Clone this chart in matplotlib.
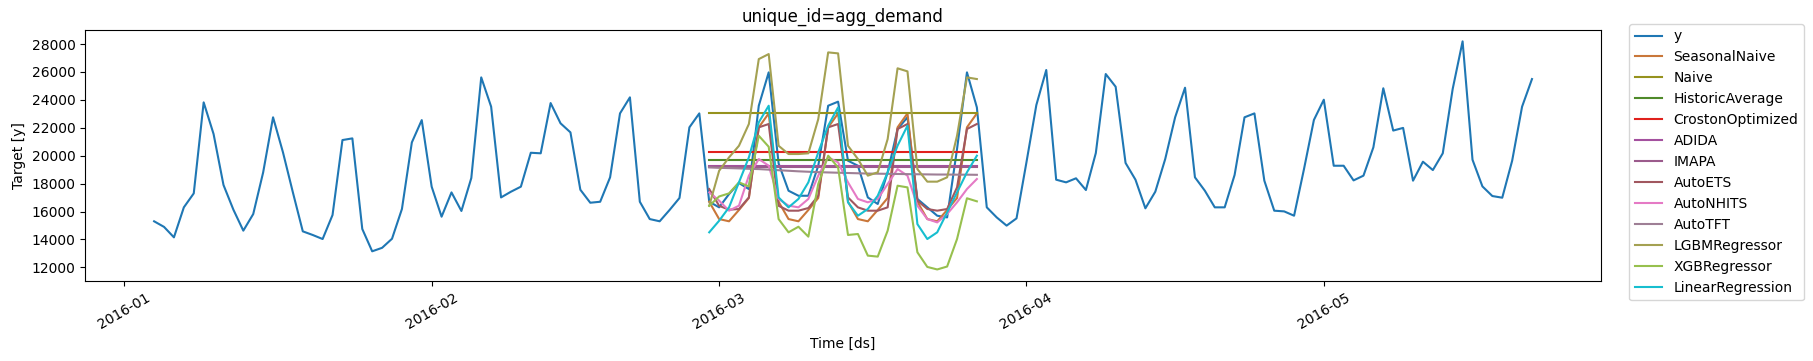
import numpy as np
import pandas as pd
import matplotlib
matplotlib.use('Agg')
import matplotlib.pyplot as plt

# actual series, daily 2016-01-04 .. 2016-05-22
ds = pd.date_range('2016-01-04', '2016-05-22', freq='D')
y = [
    # Jan 4 - Jan 31
    15300, 14900, 14150, 16300, 17300, 23820, 21550, 17900, 16130, 14630,
    15820, 18800, 22750, 20240, 17370, 14580, 14320, 14030, 15750, 21120,
    21240, 14750, 13150, 13400, 14050, 16180, 20950, 22550,
    # Feb
    17780, 15630, 17370, 16040, 18400, 25610, 23510, 17010, 17420, 17780,
    20210, 20170, 23770, 22320, 21670, 17560, 16630, 16700, 18450, 23030,
    24180, 16700, 15460, 15300, 16110, 16970, 22030, 23030, 16700,
    # Mar
    16300, 17250, 18040, 17610, 23580, 25970, 19450, 17490, 17130, 17130,
    19280, 23580, 23870, 19640, 19280, 17010, 16540, 18810, 21910, 22750,
    16900, 16300, 15700, 15580, 20480, 25970, 23460, 16300, 15580, 14990,
    15510,
    # Apr
    19520, 23630, 26140, 18280, 18090, 18380, 17540, 20190, 25850, 24940,
    19480, 18280, 16230, 17420, 19760, 22750, 24870, 18450, 17490, 16300,
    16300, 18620, 22750, 23030, 18210, 16060, 16010, 15700, 19040, 22560,
    # May 1 - May 22
    24010, 19280, 19280, 18230, 18570, 20600, 24830, 21800, 21990, 18210,
    19570, 18970, 20170, 24780, 28190, 19710, 17800, 17110, 16990, 19640,
    23510, 25490,
]

# forecasts, 28 days from 2016-02-29
fc_ds = pd.date_range('2016-02-29', periods=28, freq='D')
seasonal_naive = [16700, 15460, 15300, 16110, 16970, 22030, 23030,
                  16700, 15460, 15300, 16110, 16970, 22030, 23030,
                  16700, 15460, 15300, 16110, 16970, 22030, 23030,
                  16700, 15460, 15300, 16110, 16970, 22030, 23030]
naive = [23030] * 28
historic_average = [19660] * 28
croston_optimized = [20300] * 28
adida = [19250] * 28
imapa = [19190] * 28
auto_ets = [17610, 16410, 16130, 16180, 17010, 22030, 22270,
            16410, 16060, 16060, 16250, 17130, 22030, 22270,
            17010, 16300, 16060, 16060, 16300, 21910, 22270,
            16780, 16180, 16060, 16180, 17730, 21910, 22270]
auto_nhits = [17370, 16780, 16060, 16420, 18570, 19760, 19280,
              16900, 16420, 16300, 16900, 18570, 19880, 19520,
              18090, 16900, 16660, 16900, 17970, 19040, 18570,
              16420, 15460, 15220, 15820, 16660, 17610, 18330]
auto_tft = [19160, 19130, 19110, 19090, 19060, 19040, 19000,
            18960, 18920, 18880, 18850, 18820, 18800, 18780,
            18760, 18740, 18720, 18710, 18700, 18690, 18680,
            18670, 18660, 18650, 18650, 18640, 18640, 18630]
lgbm = [16410, 18920, 19880, 20710, 22270, 26920, 27280,
        20710, 20120, 20120, 20170, 22620, 27400, 27330,
        20710, 19760, 18570, 18810, 21190, 26260, 26040,
        19040, 18140, 18140, 18450, 21430, 25610, 25490]
xgb = [16410, 17080, 17300, 18090, 17800, 21430, 20640,
       15460, 14510, 14910, 14200, 17970, 20000, 19160,
       14320, 14390, 12840, 12770, 14630, 17850, 17730,
       13080, 12030, 11850, 12060, 14030, 16950, 16730]
linear_regression = [14510, 15340, 16300, 18090, 19880, 22390, 23580,
                     17010, 16300, 16900, 18090, 20240, 22150, 23460,
                     16660, 15700, 16180, 17130, 18810, 20720, 22150,
                     15100, 14030, 14510, 15940, 17370, 18810, 20000]

models = ['SeasonalNaive', 'Naive', 'HistoricAverage', 'CrostonOptimized',
          'ADIDA', 'IMAPA', 'AutoETS', 'AutoNHITS', 'AutoTFT',
          'LGBMRegressor', 'XGBRegressor', 'LinearRegression']
forecasts = [seasonal_naive, naive, historic_average, croston_optimized,
             adida, imapa, auto_ets, auto_nhits, auto_tft,
             lgbm, xgb, linear_regression]
colors = ['#c9773a', '#96921e', '#4f8a2a', '#e0211d',
          '#a4519f', '#9b5b8c', '#a1575f', '#e57ac5', '#9e7f95',
          '#a4a152', '#97c04e', '#17becf']

fig = plt.figure(figsize=(18.13, 3.61), dpi=100)
ax = fig.add_axes([0.047, 0.222, 0.836, 0.695])
ax.plot(ds, y, color='#1f77b4', label='y')
for name, vals, c in zip(models, forecasts, colors):
    ax.plot(fc_ds, vals, color=c, label=name)

ax.set_title('unique_id=agg_demand')
ax.set_xlabel('Time [ds]')
ax.set_ylabel('Target [y]')
ax.set_yticks(np.arange(12000, 28001, 2000))
for lbl in ax.get_xticklabels():
    lbl.set_rotation(30)
ax.legend(loc='upper left', bbox_to_anchor=(1.014, 1.052))

fig.savefig('out.png')
